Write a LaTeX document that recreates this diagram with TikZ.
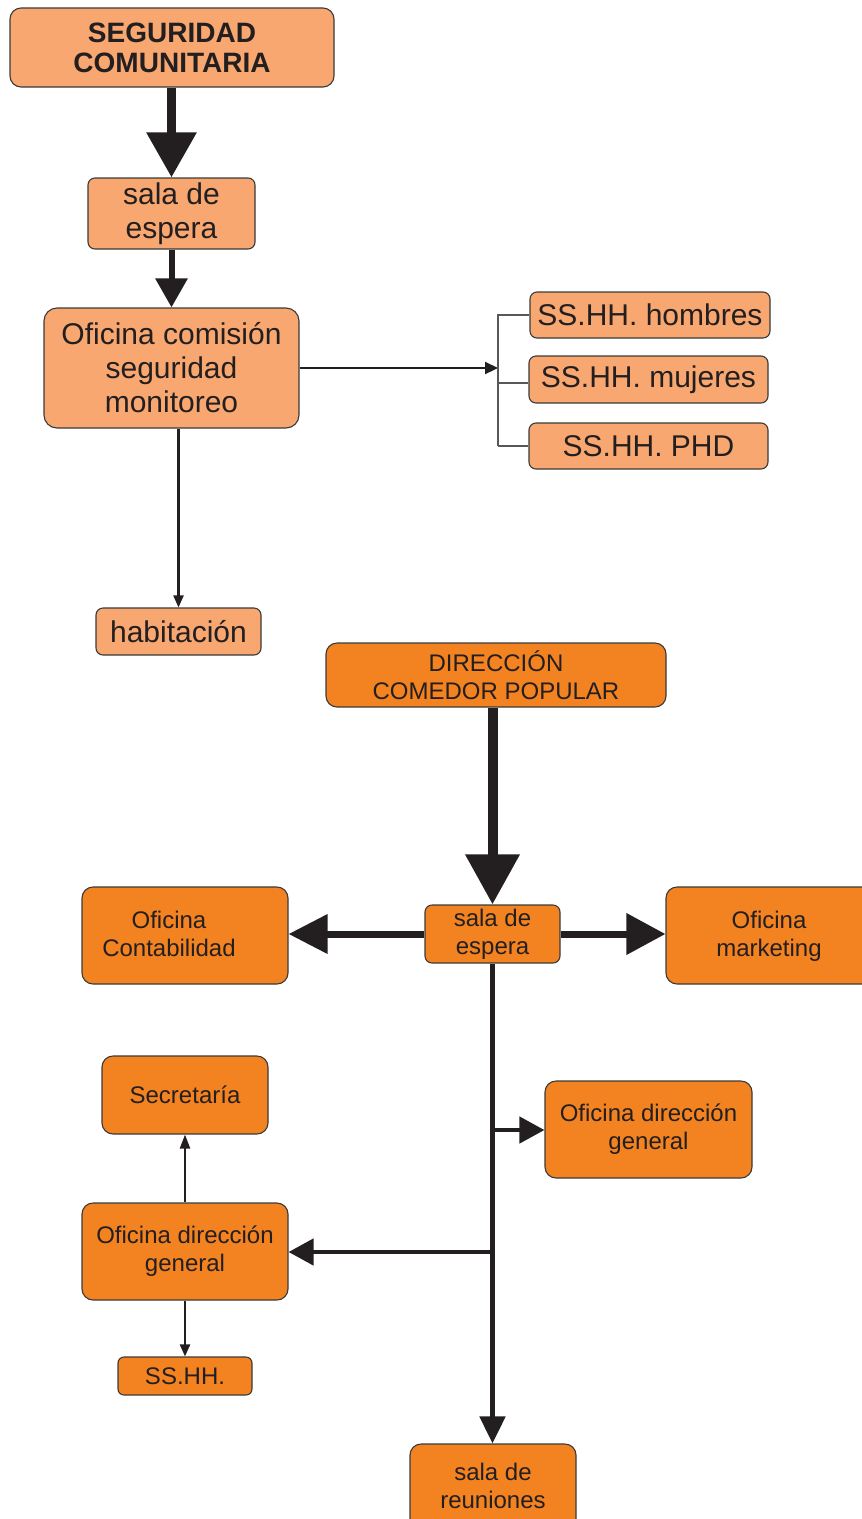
\documentclass[tikz,border=0pt]{standalone}
\usepackage{fontspec}
\setmainfont{Liberation Sans}
\usetikzlibrary{arrows.meta}
\definecolor{lightor}{HTML}{F7A76F}
\definecolor{darkor}{HTML}{F38221}
\definecolor{ink}{HTML}{231F20}
\definecolor{rim}{HTML}{3A3A3A}
\begin{document}
\begin{tikzpicture}[x=1pt,y=-1pt,
  boxA/.style={draw=rim,line width=1.1pt,fill=lightor,rounded corners=11pt,inner sep=0pt,text=ink,align=center,
    font=\fontsize{30}{34}\selectfont},
  boxB/.style={draw=rim,line width=1.1pt,fill=darkor,rounded corners=11pt,inner sep=0pt,text=ink,align=center,
    font=\fontsize{24}{28}\selectfont},
  txt/.style={text=ink,align=center,inner sep=0pt,font=\fontsize{24}{28}\selectfont},
  thin/.style={draw=ink,line width=2.2pt},
  bracket/.style={draw=rim!85,line width=1.1pt}
]
\useasboundingbox (0,0) rectangle (862,1519);
\clip (0,0) rectangle (862,1519);

% ---------- top part ----------
\node[boxA,minimum width=324pt,minimum height=79pt,font=\bfseries\fontsize{28}{30}\selectfont] (seg) at (172,47.5) {SEGURIDAD\\COMUNITARIA};
\node[boxA,minimum width=167pt,minimum height=71pt,rounded corners=7pt] (sala1) at (171.5,213.5) {sala de\\espera};
\node[boxA,minimum width=255pt,minimum height=120pt,rounded corners=13pt] (ofc) at (171.5,368) {Oficina comisión\\seguridad\\monitoreo};
\node[boxA,minimum width=240pt,minimum height=46pt,rounded corners=7pt] (hom) at (650,315) {SS.HH. hombres};
\node[boxA,minimum width=239pt,minimum height=47pt,rounded corners=7pt] (muj) at (648.5,379.5) {SS.HH. mujeres};
\node[boxA,minimum width=239pt,minimum height=46pt,rounded corners=7pt] (phd) at (648.5,446) {SS.HH. PHD};
\node[boxA,minimum width=165pt,minimum height=47pt,rounded corners=7pt] (hab) at (178.5,631.5) {habitación};

\draw[draw=ink,line width=9pt,-{Triangle[length=45pt,width=48pt]}] (seg.south -| sala1.north) -- (sala1.north);
\draw[draw=ink,line width=6pt,-{Triangle[length=29pt,width=31pt]}] (sala1.south) -- (sala1.south |- ofc.north);
\coordinate (br) at (498,368);
\draw[thin,-{Triangle[length=13pt,width=12pt]}] (ofc.east) -- (br);
\draw[bracket] (hom.west) -| (phd.west -| br);
\draw[bracket] (br |- phd.west) -- (phd.west);
\draw[bracket] (br |- 383,383) -- (muj.west |- 383,383);
\draw[thin,-{Triangle[length=12pt,width=10pt]}] (ofc.south -| hab.north) -- (hab.north);

% ---------- bottom part ----------
\node[boxB,minimum width=340pt,minimum height=64pt] (dir) at (496,675) {DIRECCIÓN\\COMEDOR POPULAR};
\node[boxB,minimum width=135pt,minimum height=58pt,rounded corners=7pt] (sala2) at (492.5,934) {sala de\\espera};
\node[boxB,minimum width=206pt,minimum height=97pt] (cont) at (185,935.5) {};
\node[txt] (contt) at (169,934) {Oficina\\Contabilidad};
\node[boxB,minimum width=214pt,minimum height=97pt] (mkt) at (773,935.5) {};
\node[txt] (mktt) at (769,936) {Oficina\\marketing};
\node[boxB,minimum width=207pt,minimum height=97pt] (odgr) at (648.5,1129.5) {Oficina dirección\\general};
\node[boxB,minimum width=166pt,minimum height=78pt] (sec) at (185,1095) {Secretaría};
\node[boxB,minimum width=206pt,minimum height=97pt] (odgl) at (185,1251.5) {Oficina dirección\\general};
\node[boxB,minimum width=134pt,minimum height=38pt,rounded corners=6pt] (ssh) at (185,1376) {SS.HH.};
\node[boxB,minimum width=166pt,minimum height=96pt] (reu) at (493,1492) {};
\node[txt] (reut) at (493,1486) {sala de\\reuniones};

\draw[draw=ink,line width=10pt,-{Triangle[length=50pt,width=52pt]}] (dir.south -| sala2.north) -- (sala2.north);
\draw[draw=ink,line width=7pt,-{Triangle[length=39pt,width=38pt]}] (sala2.west) -- (sala2.west -| cont.east);
\draw[draw=ink,line width=7pt,-{Triangle[length=39pt,width=40pt]}] (sala2.east) -- (sala2.east -| mkt.west);
\draw[draw=ink,line width=5pt,-{Triangle[length=27pt,width=25pt]}] (sala2.south) -- (sala2.south |- reu.north);
\coordinate (b1) at (492,1130);
\coordinate (b2) at (492,1252);
\draw[draw=ink,line width=4.5pt,-{Triangle[length=25pt,width=26pt]}] (b1) -- (b1 -| odgr.west);
\draw[draw=ink,line width=4.5pt,-{Triangle[length=25pt,width=26pt]}] (b2) -- (b2 -| odgl.east);
\draw[thin,-{Triangle[length=14pt,width=10pt]}] (odgl.north) -- (sec.south);
\draw[thin,-{Triangle[length=12pt,width=10pt]}] (odgl.south) -- (ssh.north);
\end{tikzpicture}
\end{document}
